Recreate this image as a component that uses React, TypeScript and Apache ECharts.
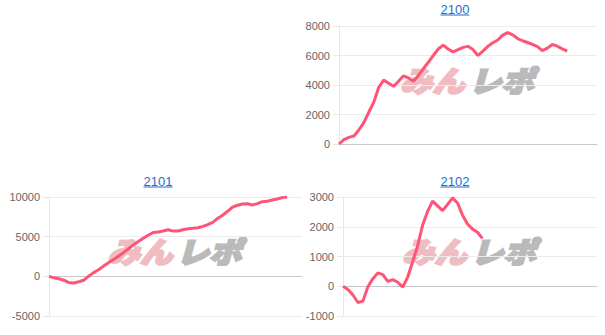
import React, { useEffect, useRef } from 'react';
import * as echarts from 'echarts';

const titles = ['2100', '2101', '2102'];

const data2100 = [
  0, 300, 452, 542, 949, 1446, 2150, 2830, 3830, 4330, 4120, 3910, 4250, 4620, 4480, 4260,
  4650, 5100, 5540, 6000, 6440, 6700, 6440, 6240, 6400, 6550, 6620, 6400, 6000, 6300, 6620,
  6860, 7050, 7380, 7550, 7400, 7150, 7000, 6880, 6750, 6600, 6330, 6500, 6750, 6630, 6450, 6300,
];

const data2101 = [
  0, -190, -310, -490, -790, -850, -690, -500, 20, 470, 830, 1290, 1700, 2110, 2530, 2980,
  3480, 3960, 4380, 4790, 5180, 5530, 5590, 5710, 5880, 5700, 5720, 5880, 6000, 6050, 6130,
  6290, 6530, 6810, 7300, 7700, 8200, 8720, 8960, 9110, 9140, 8990, 9170, 9410, 9460, 9620,
  9750, 9920, 10000,
];

const data2102 = [
  0, -110, -295, -545, -500, -15, 255, 450, 390, 165, 220, 135, -30, 310, 830, 1370, 2060,
  2520, 2860, 2700, 2540, 2750, 2970, 2800, 2390, 2090, 1920, 1815, 1610,
];

const seriesData = [data2100, data2101, data2102];
const categoryCounts = [53, 52, 52];
const yMins = [0, -5000, -1000];
const yMaxs = [8000, 10000, 3000];
const yIntervals = [2000, 5000, 1000];

const grids = [
  { left: 339, top: 26, width: 258, height: 118 },
  { left: 49, top: 197, width: 253, height: 119 },
  { left: 343, top: 197, width: 254, height: 119 },
];
const titlePos = [
  { x: 455, y: 9 },
  { x: 158, y: 181 },
  { x: 455, y: 181 },
];

const LINE_COLOR = '#ff5475';
const TITLE_COLOR = '#1f6fcf';

export default function App() {
  const ref = useRef<HTMLDivElement>(null);

  useEffect(() => {
    if (!ref.current) return;
    const chart = echarts.init(ref.current, undefined, { renderer: 'svg' });

    const graphics: any[] = [];
    titles.forEach((t, i) => {
      const p = titlePos[i];
      graphics.push({
        type: 'text',
        x: p.x,
        y: p.y,
        z: 10,
        style: {
          text: t,
          fill: TITLE_COLOR,
          fontSize: 13,
          fontFamily: 'Arial, "Liberation Sans", sans-serif',
          align: 'center',
          verticalAlign: 'middle',
        },
      });
      graphics.push({
        type: 'line',
        z: 10,
        shape: { x1: p.x - 14.5, y1: p.y + 6, x2: p.x + 14.5, y2: p.y + 6 },
        style: { stroke: TITLE_COLOR, lineWidth: 1 },
      });
    });
    grids.forEach((g) => {
      const cx = g.left + g.width / 2 - 2;
      const cy = g.top + g.height / 2 - 6;
      const common = {
        fontSize: 29,
        fontWeight: 900,
        fontStyle: 'italic',
        fontFamily: '"Noto Sans CJK JP", sans-serif',
        verticalAlign: 'middle',
        lineWidth: 2.2,
      };
      graphics.push({
        type: 'text',
        x: cx - 1,
        y: cy,
        z: 0,
        scaleX: 1.12,
        style: {
          ...common,
          text: 'みん',
          fill: '#efbdc1',
          stroke: '#efbdc1',
          align: 'right',
        },
      });
      graphics.push({
        type: 'text',
        x: cx + 3,
        y: cy,
        z: 0,
        scaleX: 1.12,
        style: {
          ...common,
          text: 'レポ',
          fill: '#bababa',
          stroke: '#bababa',
          align: 'left',
        },
      });
    });

    chart.setOption({
      animation: false,
      grid: grids.map((g) => ({ ...g, containLabel: false })),
      xAxis: grids.map((_, i) => ({
        type: 'category',
        gridIndex: i,
        boundaryGap: false,
        data: Array.from({ length: categoryCounts[i] }, (_, k) => String(k + 1)),
        axisLine: { show: true, onZero: true, lineStyle: { color: '#c8c8c8', width: 1 } },
        axisTick: { show: false },
        axisLabel: { show: false },
        splitLine: { show: false },
      })),
      yAxis: grids.map((_, i) => ({
        type: 'value',
        gridIndex: i,
        min: yMins[i],
        max: yMaxs[i],
        interval: yIntervals[i],
        axisLine: { show: true, lineStyle: { color: '#e6e6e6' } },
        axisTick: { show: true, length: 6, lineStyle: { color: '#e6e6e6' } },
        axisLabel: {
          color: '#666',
          fontSize: 11,
          margin: 9,
          fontFamily: 'Arial, "Liberation Sans", sans-serif',
          formatter: (v: number) => String(v),
        },
        splitLine: { show: true, lineStyle: { color: '#ebebeb' } },
      })),
      series: seriesData.map((d, i) => ({
        type: 'line',
        xAxisIndex: i,
        yAxisIndex: i,
        data: d,
        symbol: 'none',
        z: 5,
        lineStyle: { color: LINE_COLOR, width: 3 },
      })),
      graphic: graphics,
    });

    return () => chart.dispose();
  }, []);

  return (
    <div
      ref={ref}
      style={{ position: 'absolute', left: 0, top: 0, width: 605, height: 335, background: '#fff' }}
    />
  );
}
